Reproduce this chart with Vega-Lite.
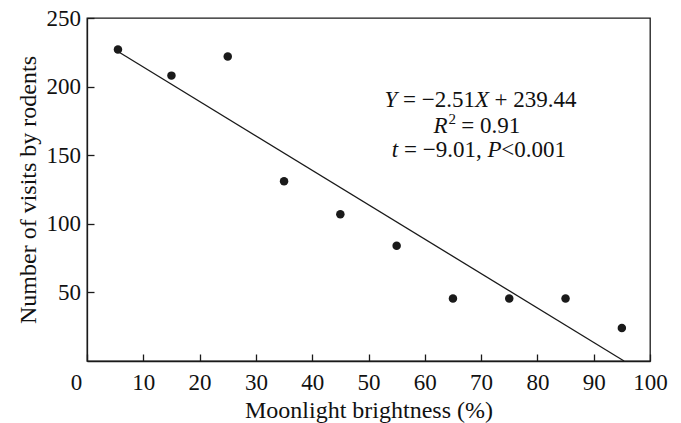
{
  "$schema": "https://vega.github.io/schema/vega-lite/v6.json",
  "width": 563,
  "height": 343,
  "autosize": "none",
  "padding": {"left": 87, "top": 18, "right": 31, "bottom": 62},
  "background": "white",
  "config": {
    "view": {"stroke": "#1a1a1a", "strokeWidth": 1.3},
    "font": "Liberation Serif",
    "axis": {
      "grid": false,
      "domainColor": "#1a1a1a",
      "domainWidth": 1.3,
      "tickColor": "#1a1a1a",
      "tickWidth": 1.3,
      "tickSize": -7,
      "labelColor": "#111111",
      "titleColor": "#111111",
      "labelFont": "Liberation Serif",
      "titleFont": "Liberation Serif",
      "labelFontSize": 23,
      "titleFontSize": 24,
      "titleFontWeight": "normal",
      "labelFlush": false,
      "labelOverlap": false
    }
  },
  "datasets": {
    "points": [
      {"brightness": 5.5, "visits": 227},
      {"brightness": 15, "visits": 208},
      {"brightness": 25, "visits": 222},
      {"brightness": 35, "visits": 131},
      {"brightness": 45, "visits": 107},
      {"brightness": 55, "visits": 84},
      {"brightness": 65, "visits": 45.5},
      {"brightness": 75, "visits": 45.5},
      {"brightness": 85, "visits": 45.5},
      {"brightness": 95, "visits": 24}
    ],
    "fit": [
      {"brightness": 5.5, "visits": 225.6},
      {"brightness": 95.39, "visits": 0}
    ],
    "eqNormal": [
      {"brightness": 56.12, "visits": 185.1, "label": "= −2.51"},
      {"brightness": 72.40, "visits": 185.1, "label": "+ 239.44"},
      {"brightness": 66.46, "visits": 166.5, "label": "= 0.91"},
      {"brightness": 56.30, "visits": 148.7, "label": "= −9.01,"},
      {"brightness": 73.60, "visits": 148.7, "label": "<0.001"}
    ],
    "eqItalic": [
      {"brightness": 52.83, "visits": 185.1, "label": "Y"},
      {"brightness": 68.90, "visits": 185.1, "label": "X"},
      {"brightness": 61.53, "visits": 166.5, "label": "R"},
      {"brightness": 54.15, "visits": 148.7, "label": "t"},
      {"brightness": 71.12, "visits": 148.7, "label": "P"}
    ],
    "eqSup": [
      {"brightness": 64.19, "visits": 172.4, "label": "2"}
    ]
  },
  "layer": [
    {
      "data": {"name": "fit"},
      "mark": {"type": "line", "color": "#1a1a1a", "strokeWidth": 1.3},
      "encoding": {
        "x": {
          "field": "brightness",
          "type": "quantitative",
          "scale": {"domain": [0, 100], "nice": false, "zero": false},
          "axis": {
            "title": "Moonlight brightness (%)",
            "values": [0, 10, 20, 30, 40, 50, 60, 70, 80, 90, 100],
            "labelPadding": 17,
            "labelOffset": {"condition": {"test": "datum.value === 0", "value": -11}, "value": 0},
            "titlePadding": 4
          }
        },
        "y": {
          "field": "visits",
          "type": "quantitative",
          "scale": {"domain": [0, 250], "nice": false, "zero": false},
          "axis": {
            "title": "Number of visits by rodents",
            "values": [50, 100, 150, 200, 250],
            "labelPadding": 13.5,
            "titlePadding": 6
          }
        }
      }
    },
    {
      "data": {"name": "points"},
      "mark": {"type": "point", "filled": true, "size": 72, "color": "#1a1a1a", "opacity": 1},
      "encoding": {
        "x": {"field": "brightness", "type": "quantitative"},
        "y": {"field": "visits", "type": "quantitative"}
      }
    },
    {
      "data": {"name": "eqNormal"},
      "mark": {"type": "text", "align": "left", "baseline": "alphabetic", "fontSize": 23, "font": "Liberation Serif", "color": "#111111"},
      "encoding": {
        "x": {"field": "brightness", "type": "quantitative"},
        "y": {"field": "visits", "type": "quantitative"},
        "text": {"field": "label"}
      }
    },
    {
      "data": {"name": "eqItalic"},
      "mark": {"type": "text", "align": "left", "baseline": "alphabetic", "fontSize": 23, "fontStyle": "italic", "font": "Liberation Serif", "color": "#111111"},
      "encoding": {
        "x": {"field": "brightness", "type": "quantitative"},
        "y": {"field": "visits", "type": "quantitative"},
        "text": {"field": "label"}
      }
    },
    {
      "data": {"name": "eqSup"},
      "mark": {"type": "text", "align": "left", "baseline": "alphabetic", "fontSize": 15, "font": "Liberation Serif", "color": "#111111"},
      "encoding": {
        "x": {"field": "brightness", "type": "quantitative"},
        "y": {"field": "visits", "type": "quantitative"},
        "text": {"field": "label"}
      }
    }
  ]
}
